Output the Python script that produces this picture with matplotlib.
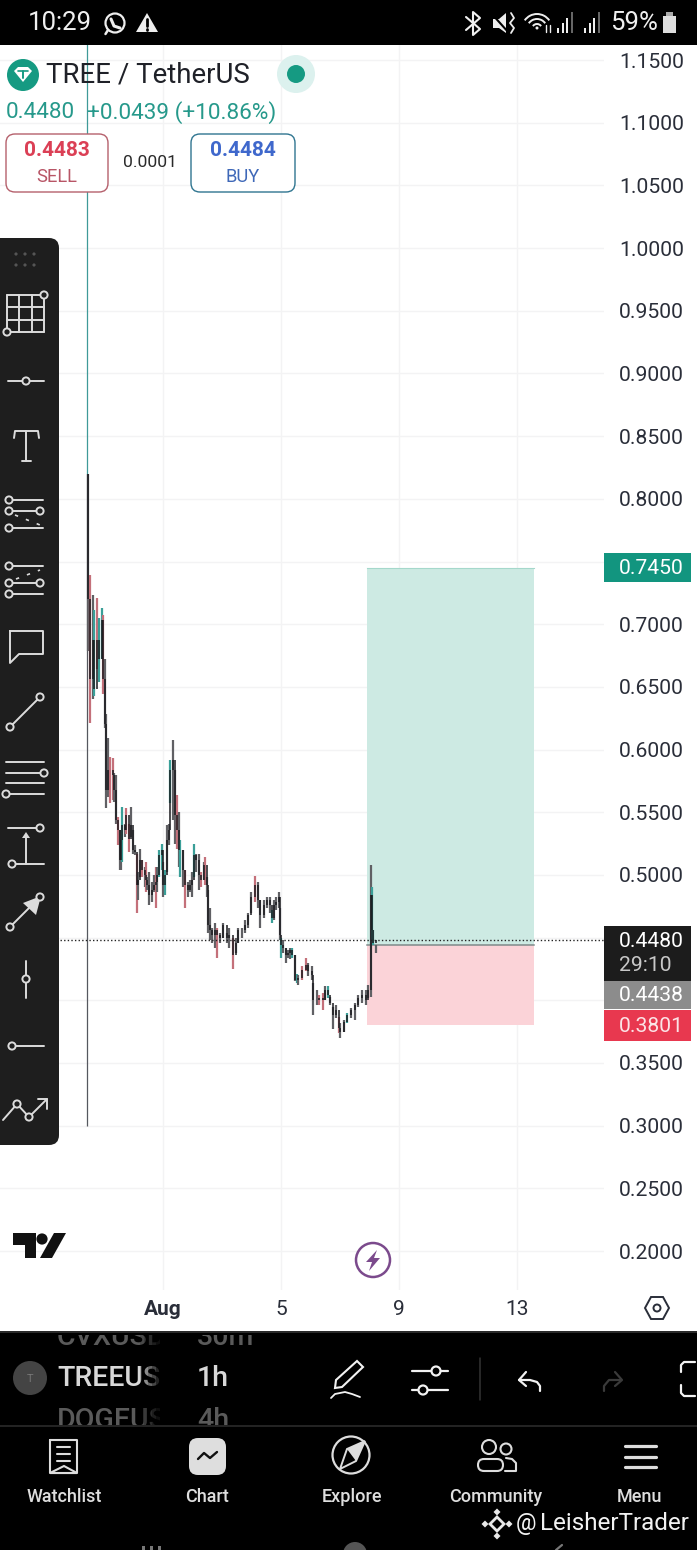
import matplotlib
matplotlib.use('Agg')
import matplotlib.pyplot as plt
from matplotlib.patches import Circle, Rectangle, FancyBboxPatch, Polygon, Arc

plt.rcParams['font.family'] = ['Roboto', 'DejaVu Sans']

# candles, hours from Aug 1 00:00
hours = [-61,-59,-57,-56,-54,-52,-50,-49,-47,-46,-45,-43,-41,-40,-38,-37,-35,-34,-33,-31,-30,-28,-26,-24,-23,-21,-20,-19,-17,-15,-14,-13,-11,-9,-7,-6,-5,-3,-1,
         0,2,3,5,6,8,10,11,13,14,16,18,20,22,24,25,27,29,31,33,34,36,37,38,40,42,44,46,49,52,54,57,59,61,64,67,69,72,75,77,79,82,85,87,89,90,92,94,95,96,98,100,102,
         103,105,107,109,110,113,116,118,121,122,125,127,130,132,134,136,138,141,143,144,147,150,153,156,159,162,165,167,169,170,171,173]
highs = [.820,.739,.723,.711,.721,.705,.713,.707,.672,.628,.609,.594,.593,.581,.580,.546,.536,.533,.554,.541,.553,.541,.554,.536,.524,.517,.502,.521,.512,.506,.510,.498,.502,.494,.500,.506,.506,.520,.525,
         .510,.504,.540,.541,.592,.608,.584,.564,.550,.528,.520,.504,.494,.496,.502,.525,.517,.517,.502,.510,.514,.498,.488,.474,.458,.462,.458,.454,.462,.454,.458,.450,.450,.458,.458,.464,.470,.486,.499,.494,.480,.480,.482,.482,.472,.480,.482,.486,.474,.450,.448,.442,.440,
         .442,.442,.436,.421,.420,.427,.434,.430,.427,.414,.408,.404,.406,.411,.411,.403,.395,.396,.387,.382,.384,.390,.394,.398,.404,.408,.408,.412,.508,.490,.456,.444]
lows = [.679,.621,.640,.643,.664,.654,.672,.644,.617,.553,.562,.557,.560,.558,.541,.524,.504,.504,.510,.530,.533,.518,.530,.517,.516,.470,.480,.498,.498,.490,.486,.488,.476,.478,.486,.474,.486,.498,.504,
        .482,.484,.502,.524,.557,.544,.525,.521,.506,.498,.490,.474,.482,.486,.482,.498,.502,.488,.490,.496,.492,.482,.454,.448,.446,.442,.434,.446,.450,.446,.442,.425,.438,.446,.450,.454,.458,.470,.478,.474,.458,.466,.474,.470,.462,.464,.472,.474,.448,.434,.438,.430,.434,
        .433,.434,.415,.414,.412,.416,.423,.419,.416,.388,.396,.396,.392,.400,.402,.396,.377,.386,.374,.370,.375,.382,.386,.384,.395,.398,.396,.402,.403,.448,.444,.438]
closes = [.720,.656,.687,.648,.687,.672,.703,.656,.620,.568,.584,.584,.580,.568,.544,.536,.512,.528,.540,.536,.548,.529,.540,.520,.518,.492,.496,.512,.504,.500,.496,.492,.484,.488,.492,.494,.500,.516,.520,
          .492,.500,.528,.536,.584,.592,.548,.536,.520,.520,.504,.492,.488,.492,.496,.516,.512,.500,.496,.508,.508,.492,.460,.456,.452,.456,.452,.450,.460,.450,.452,.436,.446,.456,.456,.460,.468,.482,.492,.480,.468,.476,.480,.476,.466,.476,.478,.482,.452,.444,.442,.436,.438,
          .440,.436,.416,.416,.418,.424,.428,.423,.420,.400,.400,.402,.400,.408,.404,.398,.388,.392,.378,.375,.383,.388,.392,.396,.402,.404,.400,.408,.484,.456,.446,.448]
colours = 'krktrttrkkkrrkkrkktkrrkkkrkkrkrkkkkrktt' + 'ktkktkkrktkrkkktkkrkrkkkkkrkkkkrkkkkkkrkkkkktkkkktkkkktktkrrkk' + 'kkrrktkkkrkktkkkkkkkttkrkrktrkk'

first_time, first_high, first_low = -62, 1.17, 0.30
first_split = 0.82

y_ticks = [1.15,1.10,1.05,1.00,.95,.90,.85,.80,.75,.70,.65,.60,.55,.50,.45,.40,.35,.30,.25,.20]
hidden_ticks = [.75,.45,.40]  # sit under the price boxes
x_ticks = [1,5,9,13]
x_labels = ['Aug','5','9','13']

target, entry, stop, last_price = 0.7450, 0.4438, 0.3801, 0.4480
pos_start, pos_end = 7.915, 13.576

W, H = 697, 1550
fig = plt.figure(figsize=(W/100, H/100), dpi=100, facecolor='white')

ax = fig.add_axes([0, (H-1290)/H, 604/W, (1290-45)/H])
ax.set_xlim(-4.525, 15.949)
ax.set_ylim(0.1689, 1.162)
for s in ax.spines.values():
    s.set_visible(False)
ax.yaxis.tick_right()
ax.set_yticks(y_ticks)
ax.set_yticklabels(['' if v in hidden_ticks else '%.4f' % v for v in y_ticks])
ax.set_xticks(x_ticks)
ax.set_xticklabels(x_labels)
ax.tick_params(axis='y', length=0, pad=10.8, labelsize=15.2, labelcolor='#2a2e39')
ax.tick_params(axis='x', length=0, pad=7, labelsize=15, labelcolor='#2a2e39')
ax.get_xticklabels()[0].set_fontweight('bold')
ax.grid(True, color='#f3f3f4', lw=1)
ax.set_axisbelow(True)

ax.add_patch(Rectangle((pos_start, entry), pos_end-pos_start, target-entry, fc='#cdeae3', ec='none', zorder=1))
ax.add_patch(Rectangle((pos_start, stop), pos_end-pos_start, entry-stop, fc='#fbd3d8', ec='none', zorder=1))
ax.plot([pos_start, pos_end], [entry, entry], color='#7f8a8a', lw=1.1, zorder=2)
ax.plot([pos_start, pos_end], [target, target], color='#a5d8cb', lw=0.8, zorder=2)

fx = 1 + first_time/24
ax.vlines(fx, first_split, first_high, color='#3f9a98', lw=0.9, zorder=3)
ax.vlines(fx, first_low, first_split, color='#55585f', lw=0.9, zorder=3)

cmap = {'k': '#606064', 't': '#3a9f98', 'r': '#c4707a'}
prev = highs[0]
for t, hi, lo, cl, c in zip(hours, highs, lows, closes, colours):
    x = 1 + t/24
    ax.vlines(x, lo, hi, color=cmap[c], lw=1.6, zorder=3)
    ax.vlines(x, min(prev, cl), max(prev, cl), color='#1a1a1e', lw=1.1, zorder=4)
    prev = cl

ax.plot([-2.5, 15.949], [last_price, last_price], color='#222222', lw=1, ls=(0, (1, 1.6)), zorder=5)

# screen furniture, in pixels
ui = fig.add_axes([0, 0, 1, 1], facecolor='none')
ui.set_xlim(0, W)
ui.set_ylim(H, 0)
ui.axis('off')

def box(x0, y0, x1, y1, fc, ec='none', r=0, lw=1, z=2):
    if r:
        p = FancyBboxPatch((x0, y0), x1-x0, y1-y0, boxstyle='round,pad=0,rounding_size=%s' % r, fc=fc, ec=ec, lw=lw, zorder=z)
    else:
        p = Rectangle((x0, y0), x1-x0, y1-y0, fc=fc, ec=ec, lw=lw, zorder=z)
    ui.add_patch(p)

def txt(x, y, s, size, color, ha='center', weight='normal', z=6, **kw):
    return ui.text(x, y+1.5, s, fontsize=size, color=color, ha=ha, va='center', fontweight=weight, zorder=z, **kw)

def line(xs, ys, color='#dcdcdc', lw=1.4, z=4, **kw):
    ui.plot(xs, ys, color=color, lw=lw, zorder=z, solid_capstyle='round', **kw)

def dot(x, y, r=3.6, ec='#dcdcdc', fc='#1e1e1e', lw=1.4, z=5):
    ui.add_patch(Circle((x, y), r, fc=fc, ec=ec, lw=lw, zorder=z))

# status bar
box(0, 0, W, 45, '#000000')
txt(28, 22, '10:29', 18.5, '#f0f0f0', ha='left')
ui.add_patch(Circle((115, 23), 9.5, fc='none', ec='#eeeeee', lw=1.6, zorder=5))
line([108, 105.5], [30, 34], '#eeeeee', 1.8)
line([111, 114, 120], [19, 26, 28], '#eeeeee', 2.2)
ui.add_patch(Polygon([[147, 13], [158, 32], [136, 32]], fc='#eeeeee', zorder=5))
line([147, 147], [19, 26], '#000000', 2, z=6)
line([147, 147], [29, 29.5], '#000000', 2, z=6)
line([466, 480, 473, 473, 480, 466], [17, 29, 35, 12, 18, 30], '#f0f0f0', 1.5)
ui.add_patch(Polygon([[493, 19], [499, 19], [506, 13], [506, 33], [499, 28], [493, 28]], fc='#eeeeee', zorder=5))
line([491, 509], [13, 33], '#000000', 1.5, z=6)
line([511, 514, 510, 514, 511], [13, 18, 23, 28, 33], '#eeeeee', 1.3)
for r in [5, 10, 15]:
    ui.add_patch(Arc((537, 29), r*2, r*2, theta1=215, theta2=325, ec='#eeeeee', lw=1.4, zorder=5))
ui.add_patch(Circle((537, 28), 1.5, fc='#eeeeee', zorder=5))
line([546, 546], [25, 32], '#eeeeee', 1)
line([550, 550], [25, 32], '#eeeeee', 1)
for x0 in [557, 584]:
    for i, (h, c) in enumerate(zip([5, 10, 15, 21], ['#eeeeee', '#eeeeee', '#eeeeee', '#666666'])):
        box(x0+i*4.6, 33-h, x0+i*4.6+2, 33, c, z=5)
txt(610, 22, '59%', 18.5, '#f0f0f0', ha='left')
box(663, 16, 676, 33, '#dddddd', z=5)
box(666, 12, 673, 16, '#aaaaaa', z=5)

# header
ui.add_patch(Circle((23, 75), 16, fc='#159a82', zorder=5))
ui.add_patch(Polygon([[14, 71], [18, 67], [28, 67], [32, 71], [23, 82]], fc='white', zorder=6))
line([18, 28], [71, 71], '#159a82', 1.2, z=7)
line([23, 23], [71, 78], '#159a82', 1.4, z=7)
txt(46, 74, 'TREE / TetherUS', 19.9, '#1f2128', ha='left')
ui.add_patch(Circle((296, 74), 19, fc='#dcf1ee', zorder=5))
ui.add_patch(Circle((296, 74), 9, fc='#159a82', zorder=6))
txt(6, 111, '0.4480', 16.2, '#26998b', ha='left')
txt(87, 111, '+0.0439 (+10.86%)', 16.2, '#26998b', ha='left')
box(6, 134, 108, 192, 'white', '#b5606c', 9, 1)
box(191, 134, 295, 192, 'white', '#2f7590', 9, 1)
txt(57, 149, '0.4483', 15, '#db3f55', weight='bold')
txt(57, 175, 'SELL', 13.2, '#b85566')
txt(150, 161, '0.0001', 12.6, '#2a2a2a')
txt(243, 149, '0.4484', 15, '#3f68cc', weight='bold')
txt(243, 175, 'BUY', 13.2, '#3f68b8')

# price labels
box(604, 553, 691, 582, '#12957f', z=3)
txt(651, 567, '0.7450', 15.2, 'white')
box(604, 926, 691, 981, '#1c1c1c', z=3)
txt(651, 940, '0.4480', 15.2, 'white')
txt(645, 964, '29:10', 15.2, '#c8c8c8')
box(604, 981, 691, 1009, '#8c8c8c', z=3)
txt(651, 994, '0.4438', 15.2, 'white')
box(604, 1010, 691, 1041, '#e8384f', z=3)
txt(651, 1025, '0.3801', 15.2, '#fbe3e6')

# drawing toolbar
box(-20, 238, 59, 1145, '#1e1e1e', r=10, z=3)
for x in [16, 25, 34]:
    for y in [254, 265]:
        ui.add_patch(Circle((x, y), 1.6, fc='#555555', zorder=5))
for v in [7, 19, 32, 44]:
    line([v, v], [295, 332])
for v in [295, 307, 320, 332]:
    line([7, 44], [v, v])
dot(44, 295); dot(7, 332)
line([8, 44], [381, 381]); dot(26, 381)
line([14, 15, 38, 39], [438, 431, 431, 438]); line([26, 26], [431, 461]); line([22, 31], [461, 461])
for y, xe in [(500, 43), (511, 40), (528, 43)]:
    line([9, xe], [y, y]); dot(9, y)
dot(40, 511)
line([15, 40], [515, 525], lw=1.2, ls=(0, (2, 5)))
for y, xe in [(566, 43), (583, 40), (594, 43)]:
    line([9, xe], [y, y]); dot(9, y)
dot(40, 583)
line([16, 40], [579, 570], lw=1.2, ls=(0, (2, 5)))
line([10, 43, 43, 19, 10, 10], [631, 631, 654, 654, 663, 631])
line([10, 40], [727, 697]); dot(10, 727); dot(40, 697)
for y, xe in [(762, 44), (773, 40), (783, 44), (794, 44)]:
    line([6, xe], [y, y])
dot(44, 773); dot(6, 794)
line([8, 40], [828, 828]); dot(40, 828)
line([12, 44], [864, 864]); dot(12, 864)
line([26, 26], [864, 836])
ui.add_patch(Polygon([[26, 832], [22, 838], [30, 838]], fc='#dcdcdc', zorder=5))
line([10, 32], [927, 905]); dot(10, 927)
ui.add_patch(Polygon([[41, 896], [36, 915], [23, 903]], fc='#dcdcdc', zorder=5)); dot(40, 897)
line([26, 26], [961, 998]); dot(26, 979)
line([12, 44], [1046, 1046]); dot(12, 1046)
line([3, 17, 29, 47], [1120, 1104, 1117, 1099])
line([38, 47, 47], [1099, 1099, 1109])
dot(17, 1104); dot(29, 1117)

# tradingview logo
ui.add_patch(Polygon([[13, 1233], [36, 1233], [36, 1258], [25, 1258], [25, 1245], [13, 1245]], fc='#111111', zorder=5))
ui.add_patch(Circle((42, 1239), 5.6, fc='#111111', zorder=5))
ui.add_patch(Polygon([[54, 1233], [66, 1233], [52, 1258], [40, 1258]], fc='#111111', zorder=5))
ui.add_patch(Circle((373, 1260), 17, fc='white', ec='#7b4a8c', lw=1.8, zorder=5))
ui.add_patch(Polygon([[377, 1250], [366, 1262], [372, 1262], [369, 1271], [380, 1258], [374, 1258]], fc='#7b4a8c', zorder=6))

# settings hexagon
ui.add_patch(Polygon([[645, 1308], [651, 1297], [663, 1297], [669, 1308], [663, 1319], [651, 1319]], fc='white', ec='#2a2e39', lw=1.4, zorder=5))
ui.add_patch(Circle((657, 1308), 3.5, fc='white', ec='#2a2e39', lw=1.4, zorder=6))

# bottom panel
box(0, 1331, W, H, '#000000', z=3)
box(0, 1331, W, 1333, '#2a2a2a', z=4)
line([0, W], [1426, 1426], '#2b2b2b', 1.2)
clip = Rectangle((0, 1335), W, 90, transform=ui.transData)
for s, tf, y, col in [('CVXUSD', '30m', 1336, '#5a5a5a'), ('TREEUSD', '1h', 1377, '#d8d8d8'), ('DOGEUSD', '4h', 1419, '#5a5a5a')]:
    for tx, label in [(57, s), (197, tf)]:
        t = txt(tx, y, label, 20.5, col, ha='left', weight='medium')
        t.set_clip_on(True)
        t.set_clip_path(clip)
for i in range(6):
    box(140+i*4, 1334, 144+i*4, 1425, '#000000', z=7)
    ui.patches[-1].set_alpha(0.2+i*0.16)
box(164, 1334, 190, 1425, '#000000', z=7)
ui.add_patch(Circle((30, 1378), 17, fc='#444444', zorder=5))
txt(30, 1377, 'T', 8, '#777777')

# chart bar icons
ui.add_patch(Polygon([[336, 1380], [357, 1361], [363, 1367], [342, 1387], [335, 1388]], fc='none', ec='#f2f2f2', lw=1.5, zorder=5))
line([331, 335, 345, 352, 360], [1398, 1394, 1392, 1394, 1397], '#f2f2f2', 1.3)
line([412, 448], [1371, 1371], '#f2f2f2', 1.6); dot(436, 1371, 4.5, '#f2f2f2', '#000000', 1.6)
line([412, 448], [1390, 1390], '#f2f2f2', 1.6); dot(423, 1390, 4.5, '#f2f2f2', '#000000', 1.6)
line([480, 480], [1358, 1400], '#333333', 1.1)
line([519, 530, 537, 540, 540], [1380, 1380, 1382, 1386, 1391], '#f2f2f2', 1.6)
line([526, 519, 526], [1372, 1380, 1386], '#f2f2f2', 1.6)
line([604, 604, 609, 621], [1391, 1386, 1380, 1380], '#3a3a3a', 1.6)
line([615, 622, 615], [1372, 1380, 1386], '#3a3a3a', 1.6)
line([695, 684, 681, 681], [1362, 1362, 1365, 1372], '#f2f2f2', 1.6)
line([681, 681, 684, 695], [1385, 1393, 1396, 1396], '#f2f2f2', 1.6)

# nav bar
line([50, 50, 77, 77, 64, 50], [1440, 1473, 1473, 1440, 1440, 1440], '#dddddd', 1.5, z=4)
ui.add_patch(Polygon([[50, 1473], [64, 1466], [77, 1473]], fc='#000000', ec='#dddddd', lw=1.5, zorder=5))
for y in [1447, 1454, 1461]:
    line([57, 70], [y, y], '#dddddd', 1.5)
box(189, 1438, 226, 1475, '#dedede', r=9, z=5)
line([198, 204, 210, 217], [1459, 1453, 1458, 1452], '#111111', 1.7, z=6)
ui.add_patch(Circle((351, 1455), 18.5, fc='none', ec='#dddddd', lw=1.6, zorder=5))
ui.add_patch(Polygon([[365, 1441], [356, 1461], [340, 1469], [347, 1449]], fc='none', ec='#dddddd', lw=1.4, zorder=5))
ui.add_patch(Polygon([[365, 1441], [356, 1461], [347, 1449]], fc='#dddddd', zorder=5))
ui.add_patch(Circle((489, 1447), 7, fc='none', ec='#dddddd', lw=1.5, zorder=5))
ui.add_patch(Circle((506, 1449), 5.5, fc='none', ec='#dddddd', lw=1.5, zorder=5))
box(478, 1459, 503, 1471, 'none', '#dddddd', 6, 1.5, 5)
line([506, 512, 516, 516, 505], [1458, 1459, 1463, 1471, 1471], '#dddddd', 1.5)
for y in [1446, 1457, 1467]:
    line([625, 656], [y, y], '#dddddd', 2.3)
for x, s in [(64, 'Watchlist'), (207, 'Chart'), (352, 'Explore'), (496, 'Community'), (640, 'Menu')]:
    txt(x, 1496, s, 13, '#dedede', weight='medium')

# watermark
for a, b in [(497, 1512), (497, 1536), (485, 1524), (509, 1524)]:
    ui.add_patch(Polygon([[a-3.5, b], [a, b-3.5], [a+3.5, b], [a, b+3.5]], fc='#e8e8e8', zorder=6))
ui.add_patch(Polygon([[490, 1524], [497, 1517], [504, 1524], [497, 1531]], fc='none', ec='#e8e8e8', lw=2, zorder=6))
txt(526, 1522, '@', 16.5, '#f2f2f2')
txt(540, 1522, 'LeisherTrader', 17.5, '#f2f2f2', ha='left')
for x in [142, 150, 158]:
    box(x, 1546, x+3, 1550, '#777777', z=5)
ui.add_patch(Circle((355, 1554), 12, fc='#555555', zorder=5))
line([562, 556], [1545, 1550], '#777777', 1.6)

fig.savefig('out.png', dpi=100)
